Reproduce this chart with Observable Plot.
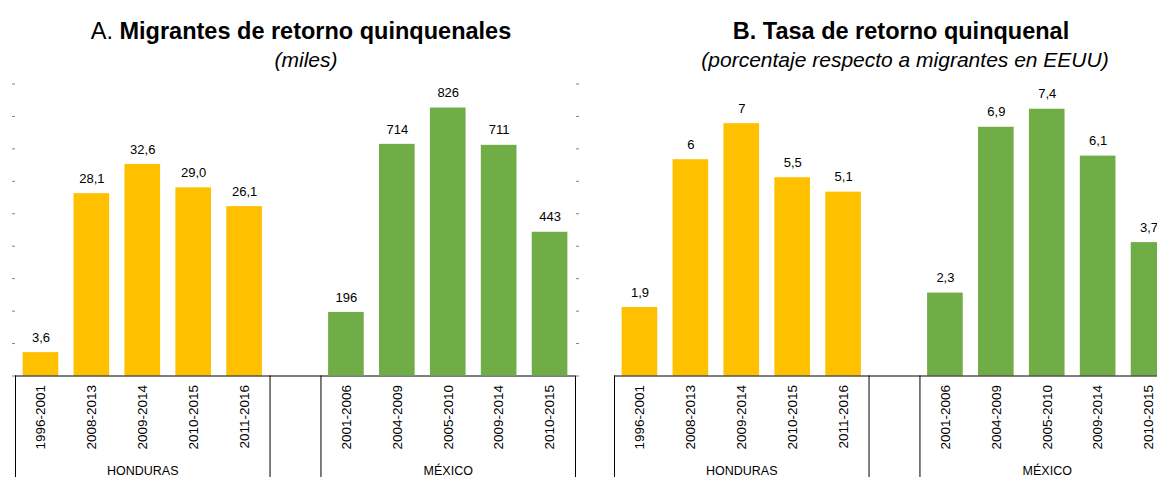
<!DOCTYPE html>
<html>
<head>
<meta charset="utf-8">
<script src="https://cdn.jsdelivr.net/npm/d3@7"></script>
<script src="https://cdn.jsdelivr.net/npm/@observablehq/plot@0.6"></script>
<style>
  html, body { margin: 0; padding: 0; background: #fff; overflow: hidden; width: 1157px; height: 477px; }
  #root { position: relative; width: 1157px; height: 477px; overflow: hidden; font-family: "Liberation Sans", Arial, sans-serif; color: #000; }
  .title { position: absolute; white-space: nowrap; transform: translateX(-50%); font-size: 23.5px; line-height: 28px; top: 17px; }
  .sub { position: absolute; white-space: nowrap; transform: translateX(-50%); font-size: 21px; line-height: 24px; top: 48px; font-style: italic; }
  .panel { position: absolute; top: 70px; width: 590px; height: 407px; }
  .panel svg { position: absolute; left: 0; top: 0; overflow: visible; }
  #err { position: absolute; left: 10px; top: 100px; color: red; font-size: 12px; white-space: pre; }
</style>
</head>
<body>
<div id="root">
  <div class="title" style="left:301px">A. <b>Migrantes de retorno quinquenales</b></div>
  <div class="sub" style="left:306px">(miles)</div>
  <div class="title" style="left:901px"><b>B. Tasa de retorno quinquenal</b></div>
  <div class="sub" style="left:905px">(porcentaje respecto a migrantes en EEUU)</div>
  <div class="panel" id="panelA" style="left:0px"></div>
  <div class="panel" id="panelB" style="left:598.5px"></div>
  <div id="err"></div>
</div>
<script>
// ---- data ----
const groups = ["HONDURAS", "MÉXICO"];
const hondurasPeriods = ["1996-2001", "2008-2013", "2009-2014", "2010-2015", "2011-2016"];
const mexicoPeriods = ["2001-2006", "2004-2009", "2005-2010", "2009-2014", "2010-2015"];
const hondurasMigrants = [3.6, 28.1, 32.6, 29.0, 26.1];   // miles
const mexicoMigrants = [196, 714, 826, 711, 443];         // miles
const hondurasRate = [1.9, 6, 7, 5.5, 5.1];               // %
const mexicoRate = [2.3, 6.9, 7.4, 6.1, 3.7];             // %
const hondurasAxisTicks = [0, 5, 10, 15, 20, 25, 30, 35, 40, 45];
const mexicoAxisTicks = [0, 100, 200, 300, 400, 500, 600, 700, 800, 900];
const rateAxisTicks = [0, 0.9, 1.8, 2.7, 3.6, 4.5, 5.4, 6.3, 7.2, 8.1];

const HN_COLOR = "#FFC000";
const MX_COLOR = "#70AD47";
const FONT = "'Liberation Sans', Arial, sans-serif";

try {
// ---- build tables ----
const hKeys = hondurasPeriods.map(p => groups[0] + "|" + p);
const mKeys = mexicoPeriods.map(p => groups[1] + "|" + p);
const GAP = "gap";
const domain = [...hKeys, GAP, ...mKeys];
const comma = s => String(s).replace(".", ",");

const tbl = (keys, vals, fmt) => keys.map((k, i) => ({key: k, value: vals[i], label: fmt(vals[i])}));
const hA = tbl(hKeys, hondurasMigrants, v => comma(v.toFixed(1)));
const mA = tbl(mKeys, mexicoMigrants, v => String(v));
const hB = tbl(hKeys, hondurasRate, v => comma(v));
const mB = tbl(mKeys, mexicoRate, v => comma(v));
const groupLabels = [{key: hKeys[2], name: groups[0]}, {key: mKeys[2], name: groups[1]}];

// ---- layout ----
const W = 590, H = 407, ML = 15, MR = 15, MT = 13.5, MB = 101.5;
const step = (W - ML - MR) / domain.length;

function frameMarks() {
  return [
    Plot.axisX({tickSize: 0, tickRotate: -90, tickPadding: 9, fontSize: 13.5, label: null,
      tickFormat: k => (String(k).split("|")[1] || "")}),
    Plot.ruleY([0], {stroke: "#000", strokeWidth: 1.2}),
    Plot.ruleX([hKeys[0], GAP, mKeys[0]], {x: d => d, y1: () => 0, y2: () => 0, insetBottom: -MB, dx: -step / 2, stroke: "#000", strokeWidth: 1}),
    Plot.ruleX([mKeys[4]], {x: d => d, y1: () => 0, y2: () => 0, insetBottom: -MB, dx: step / 2, stroke: "#000", strokeWidth: 1}),
    Plot.text(groupLabels, {x: "key", y: () => 0, dy: 95, text: "name", fontSize: 12.5, fill: "#000"})
  ];
}

function plotLayer(yDomain, marks, showX = true) {
  return Plot.plot({
    width: W, height: H,
    marginLeft: ML, marginRight: MR, marginTop: MT, marginBottom: MB,
    x: {type: "band", domain, paddingInner: 0.3, paddingOuter: 0.15, round: false, axis: showX ? undefined : null},
    y: {domain: yDomain},
    style: {fontFamily: FONT, fontSize: "13px", background: "transparent", color: "#000", overflow: "visible"},
    marks
  });
}

function barsAndLabels(data, color) {
  return [
    Plot.barY(data, {x: "key", y: "value", fill: color}),
    Plot.text(data, {x: "key", y: "value", text: "label", dy: -15, fontSize: 13, fill: "#000"})
  ];
}

const tickAxis = (anchor, ticks) =>
  Plot.axisY({anchor, ticks, tickSize: 3, tickFormat: () => "", label: null, stroke: "#808080"});

// Panel A: Honduras on left axis, México on right axis
const a1 = plotLayer([0, 45], [
  tickAxis("left", hondurasAxisTicks),
  ...barsAndLabels(hA, HN_COLOR),
  ...frameMarks()
]);
const a2 = plotLayer([0, 900], [
  tickAxis("right", mexicoAxisTicks),
  ...barsAndLabels(mA, MX_COLOR)
], false);
document.getElementById("panelA").append(a1, a2);

// Panel B: single axis (rate), axis on the right edge (outside the window)
const b1 = plotLayer([0, 8.1], [
  tickAxis("right", rateAxisTicks),
  ...barsAndLabels(hB, HN_COLOR),
  ...barsAndLabels(mB, MX_COLOR),
  ...frameMarks()
]);
document.getElementById("panelB").append(b1);
} catch (e) {
  document.getElementById("err").textContent = String(e && e.stack || e);
}
</script>
</body>
</html>
